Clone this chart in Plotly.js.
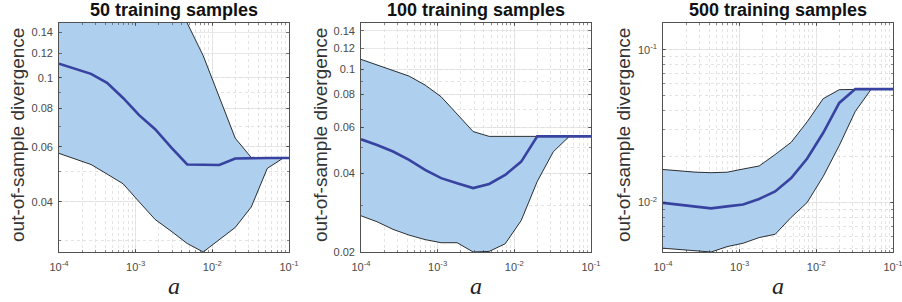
<!DOCTYPE html>
<html>
<head>
<meta charset="utf-8">
<script src="https://cdn.plot.ly/plotly-3.0.1.min.js"></script>
<style>html,body{margin:0;padding:0;background:#fff;}#chart{width:902px;height:302px;}</style>
</head>
<body>
<div id="chart"></div>
<script>
// regularisation parameter a (log-spaced grid)
const a = [1.000e-4, 1.618e-4, 2.618e-4, 4.236e-4, 6.854e-4, 1.109e-3, 1.794e-3, 2.903e-3,
           4.698e-3, 7.601e-3, 1.230e-2, 1.990e-2, 3.220e-2, 5.210e-2, 8.430e-2, 1.364e-1];

const panelTitles = ["50 training samples", "100 training samples", "500 training samples"];

// 50 training samples
const upper50 = [0.35, 0.32, 0.30, 0.28, 0.25, 0.22, 0.20, 0.18, 0.150, 0.1178, 0.0868, 0.064, 0.0555, 0.0553, 0.0553, 0.0553];
const mean50  = [0.111, 0.107, 0.103, 0.0964, 0.0862, 0.0759, 0.0684, 0.0598, 0.0527, 0.0526, 0.0525, 0.0551, 0.0553, 0.0553, 0.0553, 0.0553];
const lower50 = [0.0572, 0.0549, 0.0527, 0.0491, 0.0457, 0.0400, 0.0351, 0.0322, 0.0294, 0.0276, 0.0303, 0.0331, 0.0385, 0.0512, 0.0553, 0.0553];

// 100 training samples
const upper100 = [0.1089, 0.1036, 0.0987, 0.0940, 0.0869, 0.0784, 0.0673, 0.0577, 0.0553, 0.0553, 0.0553, 0.0553, 0.0553, 0.0553, 0.0553, 0.0553];
const mean100  = [0.0539, 0.0513, 0.0484, 0.0450, 0.0412, 0.0383, 0.0366, 0.0351, 0.0364, 0.0394, 0.0443, 0.0553, 0.0553, 0.0553, 0.0553, 0.0553];
const lower100 = [0.0275, 0.0261, 0.0244, 0.0232, 0.0223, 0.0217, 0.0217, 0.0200, 0.0201, 0.0215, 0.0264, 0.0372, 0.0483, 0.0553, 0.0553, 0.0553];

// 500 training samples
const upper500 = [0.01644, 0.0161, 0.0158, 0.01566, 0.01578, 0.01656, 0.01733, 0.0206, 0.0248, 0.0338, 0.0479, 0.0548, 0.0553, 0.0553, 0.0553, 0.0553];
const mean500  = [0.00993, 0.00964, 0.00935, 0.00914, 0.00942, 0.0097, 0.01054, 0.0118, 0.01445, 0.0194, 0.0286, 0.0449, 0.0553, 0.0553, 0.0553, 0.0553];
const lower500 = [0.00501, 0.0049, 0.00479, 0.00473, 0.00513, 0.0054, 0.00588, 0.00618, 0.00798, 0.0100, 0.0148, 0.0236, 0.0395, 0.0553, 0.0553, 0.0553];

// tick labels
const xTickVals = [1e-4, 1e-3, 1e-2, 1e-1];
const xTickText = ["10<sup>-4</sup>", "10<sup>-3</sup>", "10<sup>-2</sup>", "10<sup>-1</sup>"];
const yTickVals = [0.02, 0.04, 0.06, 0.08, 0.1, 0.12, 0.14];
const yTickText = ["0.02", "0.04", "0.06", "0.08", "0.1", "0.12", "0.14"];
const y3TickVals = [0.01, 0.1];
const y3TickText = ["10<sup>-2</sup>", "10<sup>-1</sup>"];

const series = [
  {upper: upper50, mean: mean50, lower: lower50},
  {upper: upper100, mean: mean100, lower: lower100},
  {upper: upper500, mean: mean500, lower: lower500}
];

const FILL = "rgb(174,207,237)";
const MEANC = "rgb(56,66,160)";
const AXC = "#262626";
const TICKC = "#4a4a4a";
const FONT = "Liberation Sans, Arial, sans-serif";

function minorVals(lo, hi) {
  const v = [];
  for (let e = lo; e < hi; e++) for (let m = 1; m <= 9; m++) v.push(m * Math.pow(10, e));
  return v;
}

const traces = [];
series.forEach((s, i) => {
  const xa = i === 0 ? "x" : "x" + (i + 1);
  const ya = i === 0 ? "y" : "y" + (i + 1);
  traces.push({x: a, y: s.upper, xaxis: xa, yaxis: ya, mode: "lines", type: "scatter",
    line: {color: "#000", width: 0.8}, hoverinfo: "skip", showlegend: false});
  traces.push({x: a, y: s.lower, xaxis: xa, yaxis: ya, mode: "lines", type: "scatter",
    fill: "tonexty", fillcolor: FILL,
    line: {color: "#000", width: 0.8}, hoverinfo: "skip", showlegend: false});
  traces.push({x: a, y: s.mean, xaxis: xa, yaxis: ya, mode: "lines", type: "scatter",
    line: {color: MEANC, width: 2.6}, showlegend: false});
});

const xDomains = [[59/902, 289/902], [361/902, 591/902], [663/902, 893/902]];
const yDomain = [50/302, 279/302];
const yRanges = [[-1.559, -0.824], [-1.699, -0.824], [-2.325, -0.824]];

const layout = {
  width: 902, height: 302,
  margin: {l: 0, r: 0, t: 0, b: 0},
  paper_bgcolor: "#fff", plot_bgcolor: "#fff",
  font: {family: FONT, color: AXC},
  showlegend: false,
  annotations: []
};

function xAxis(i) {
  return {
    type: "log", domain: xDomains[i], range: [-4, -1], anchor: i === 0 ? "y" : "y" + (i + 1),
    tickmode: "array", tickvals: xTickVals, ticktext: xTickText,
    tickfont: {size: 11, color: TICKC, family: FONT},
    ticks: "inside", ticklen: 3, tickcolor: AXC, tickwidth: 0.6,
    showline: true, linecolor: AXC, linewidth: 0.8, mirror: "ticks",
    showgrid: true, gridcolor: "#dedede", gridwidth: 0.7,
    zeroline: false, ticklabelstandoff: 5, ticklabeloverflow: "allow",
    minor: {tickmode: "array", tickvals: minorVals(-4, -1), ticks: "inside", ticklen: 2,
            tickcolor: AXC, tickwidth: 0.5, showgrid: true, gridcolor: "#d8d8d8", griddash: "dot", gridwidth: 0.7}
  };
}

function yAxis(i) {
  const ax = {
    type: "log", domain: yDomain, range: yRanges[i], anchor: i === 0 ? "x" : "x" + (i + 1),
    tickmode: "array",
    tickvals: i < 2 ? yTickVals : y3TickVals,
    ticktext: i < 2 ? yTickText : y3TickText,
    tickfont: {size: 11, color: TICKC, family: FONT},
    ticks: "inside", ticklen: 3, tickcolor: AXC, tickwidth: 0.6,
    showline: true, linecolor: AXC, linewidth: 0.8, mirror: "ticks",
    showgrid: true, gridcolor: "#dedede", gridwidth: 0.7,
    zeroline: false, ticklabelstandoff: 3, ticklabeloverflow: "allow",
    minor: {tickmode: "array", tickvals: minorVals(-3, 0), ticks: "inside", ticklen: 2,
            tickcolor: AXC, tickwidth: 0.5, showgrid: true, gridcolor: "#d8d8d8", griddash: "dot", gridwidth: 0.7}
  };
  return ax;
}

for (let i = 0; i < 3; i++) {
  const sfx = i === 0 ? "" : String(i + 1);
  layout["xaxis" + sfx] = xAxis(i);
  layout["yaxis" + sfx] = yAxis(i);
  const cx = (xDomains[i][0] + xDomains[i][1]) / 2;
  layout.annotations.push({text: "<b>" + panelTitles[i] + "</b>", xref: "paper", yref: "paper",
    x: cx, y: 0.967, xanchor: "center", yanchor: "middle", showarrow: false,
    font: {size: 18, color: "#111", family: FONT}});
  layout.annotations.push({text: "<i>a</i>", xref: "paper", yref: "paper",
    x: cx, y: 0.004, xanchor: "center", yanchor: "bottom", showarrow: false,
    font: {size: 24, color: "#222", family: "Liberation Serif, Times New Roman, serif"}});
  layout.annotations.push({text: "out-of-sample divergence", xref: "paper", yref: "paper",
    x: [18, 321, 624][i] / 902, y: 0.553, xanchor: "center", yanchor: "middle", textangle: -90,
    showarrow: false, font: {size: 19, color: "#333", family: FONT}});
}

Plotly.newPlot("chart", traces, layout, {displayModeBar: false, staticPlot: true});
</script>
</body>
</html>
